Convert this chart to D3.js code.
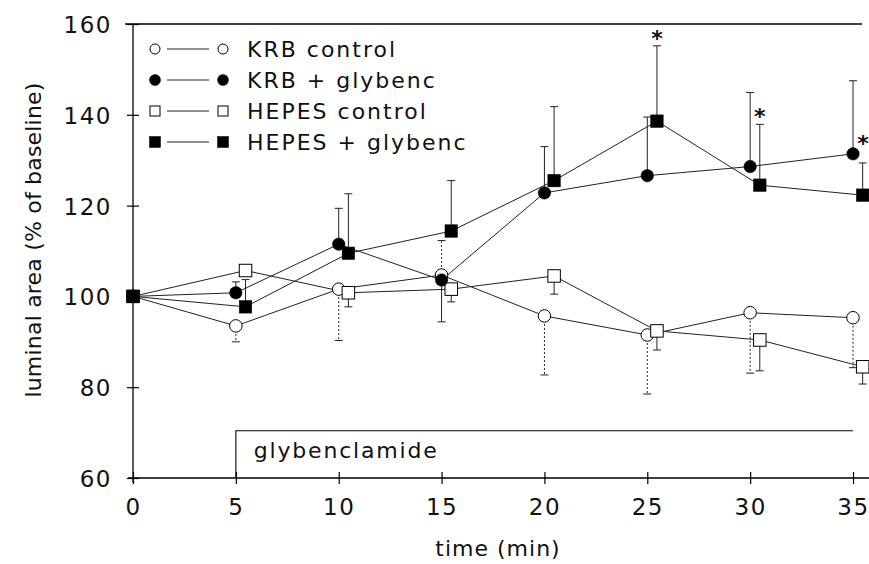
<!DOCTYPE html>
<html><head><meta charset="utf-8">
<script src="https://cdn.jsdelivr.net/npm/d3@7"></script>
<style>body{margin:0;background:#fff}svg{display:block}text{font-family:"DejaVu Sans",sans-serif;fill:#111}</style>
</head><body><svg id="c" width="869" height="564"></svg>
<script>
// ---- data ----
const times = [0, 5, 10, 15, 20, 25, 30, 35];
const xTicks = [0, 5, 10, 15, 20, 25, 30, 35];
const yTicks = [60, 80, 100, 120, 140, 160];
const seriesNames = ["KRB control", "KRB + glybenc", "HEPES control", "HEPES + glybenc"];
// mean values (% of baseline)
const krbControl   = [100, 93.5, 101.6, 104.7, 95.7, 91.5, 96.4, 95.3];
const krbGlyb      = [100, 100.8, 111.5, 103.6, 122.8, 126.6, 128.6, 131.4];
const hepesControl = [100, 105.7, 100.8, 101.6, 104.5, 92.4, 90.4, 84.5];
const hepesGlyb    = [100, 97.7, 109.5, 114.4, 125.5, 138.6, 124.5, 122.3];
// SEM drawn one-sided: positive = upward bar, negative = downward bar
const krbControlErr   = [0, -3.5, -11.3, 7.6, -13.0, -13.0, -13.3, -11.0];
const krbGlybErr      = [0, 2.4, 7.9, -9.2, 10.2, 12.9, 16.3, 16.1];
const hepesControlErr = [0, 0, -3.1, -2.8, -4.0, -4.2, -6.8, -3.8];
const hepesGlybErr    = [0, 6.0, 13.1, 11.1, 16.3, 16.6, 13.4, 7.1];
// significance marks: series index, time
const starSeries = [3, 3, 1];
const starTimes  = [25, 30, 35];
// glybenclamide application period
const glybStart = 5, glybEnd = 35, glybLevel = 70.4;

// ---- layout ----
const svg = d3.select("#c");
const x = d3.scaleLinear().domain([0, 35]).range([133, 853]);
const y = d3.scaleLinear().domain([60, 160]).range([478, 24]);
const hepesShift = 0.47;

const series = [
  {name: seriesNames[0], v: krbControl, e: krbControlErr, shape: "circle", fill: false, shift: 0, dash: "2,2"},
  {name: seriesNames[1], v: krbGlyb, e: krbGlybErr, shape: "circle", fill: true, shift: 0, dash: null},
  {name: seriesNames[2], v: hepesControl, e: hepesControlErr, shape: "square", fill: false, shift: hepesShift, dash: null},
  {name: seriesNames[3], v: hepesGlyb, e: hepesGlybErr, shape: "square", fill: true, shift: hepesShift, dash: null}
];
const px = (s, t) => x(t + (t > 0 ? s.shift : 0));

// frame: top line, axes
svg.append("line").attr("x1", 125).attr("x2", 862).attr("y1", y(160)).attr("y2", y(160))
  .attr("stroke", "#000").attr("stroke-width", 1.3);
svg.append("line").attr("x1", x(0)).attr("x2", x(0)).attr("y1", y(160)).attr("y2", y(60) + 5)
  .attr("stroke", "#000").attr("stroke-width", 1.3);
svg.append("line").attr("x1", x(0) - 5).attr("x2", 869).attr("y1", y(60)).attr("y2", y(60))
  .attr("stroke", "#000").attr("stroke-width", 1.3);

// y axis ticks (crossing)
const yAxis = d3.axisLeft(y).tickValues(yTicks).tickSize(0).tickPadding(0);
const ya = svg.append("g").attr("transform", `translate(${x(0)},0)`).call(yAxis);
ya.select(".domain").remove();
ya.selectAll(".tick line").remove();
ya.selectAll(".tick").append("line").attr("x1", -6).attr("x2", 6).attr("stroke", "#000").attr("stroke-width", 1.2);
ya.selectAll(".tick text").attr("x", -21).attr("dy", "0.37em")
  .style("font-size", "23px").style("letter-spacing", "1.5px").attr("fill", "#111");

// x axis ticks (crossing)
const xAxis = d3.axisBottom(x).tickValues(xTicks).tickSize(0).tickPadding(0);
const xa = svg.append("g").attr("transform", `translate(0,${y(60)})`).call(xAxis);
xa.select(".domain").remove();
xa.selectAll(".tick line").remove();
xa.selectAll(".tick").append("line").attr("y1", -6).attr("y2", 6).attr("stroke", "#000").attr("stroke-width", 1.2);
xa.selectAll(".tick text").attr("y", 37).attr("dy", 0)
  .style("font-size", "23px").style("letter-spacing", "1.5px").attr("fill", "#111");

// axis titles
svg.append("text").attr("x", 498).attr("y", 556).attr("text-anchor", "middle")
  .style("font-size", "22px").style("letter-spacing", "1px").text("time (min)");
svg.append("text").attr("transform", `translate(41,240) rotate(-90)`).attr("text-anchor", "middle")
  .style("font-size", "22px").style("letter-spacing", "0.2px").text("luminal area (% of baseline)");

// glybenclamide bracket
svg.append("path")
  .attr("d", `M${x(glybStart)},${y(60)} V${y(glybLevel)} H${x(glybEnd)}`)
  .attr("fill", "none").attr("stroke", "#000").attr("stroke-width", 1.1);
svg.append("text").attr("x", x(glybStart) + 18).attr("y", 458)
  .style("font-size", "22px").style("letter-spacing", "1.8px").text("glybenclamide");

// lines
const g = svg.append("g");
series.forEach(s => {
  const line = d3.line().x((d, i) => px(s, times[i])).y(d => y(d));
  g.append("path").attr("d", line(s.v)).attr("fill", "none").attr("stroke", "#222").attr("stroke-width", 1);
});
// error bars
series.forEach(s => {
  s.v.forEach((v, i) => {
    const e = s.e[i];
    if (!e) return;
    const xx = px(s, times[i]);
    g.append("line").attr("x1", xx).attr("x2", xx).attr("y1", y(v)).attr("y2", y(v + e))
      .attr("stroke", "#222").attr("stroke-width", 1).attr("stroke-dasharray", s.dash);
    g.append("line").attr("x1", xx - 4).attr("x2", xx + 4).attr("y1", y(v + e)).attr("y2", y(v + e))
      .attr("stroke", "#222").attr("stroke-width", 1);
  });
});
// markers
function marker(sel, s, cx, cy, size) {
  if (s.shape === "circle") {
    sel.append("circle").attr("cx", cx).attr("cy", cy).attr("r", size / 2)
      .attr("fill", s.fill ? "#000" : "#fff").attr("stroke", "#000").attr("stroke-width", s.fill ? 0.5 : 1);
  } else {
    sel.append("rect").attr("x", cx - size / 2).attr("y", cy - size / 2).attr("width", size).attr("height", size)
      .attr("fill", s.fill ? "#000" : "#fff").attr("stroke", "#000").attr("stroke-width", s.fill ? 0.5 : 1);
  }
}
[0, 2, 1, 3].forEach(k => {
  const s = series[k];
  s.v.forEach((v, i) => marker(g, s, px(s, times[i]), y(v), 12.5));
});
// significance asterisks
starSeries.forEach((k, j) => {
  const s = series[k];
  const i = times.indexOf(starTimes[j]);
  const v = s.v[i], e = s.e[i];
  let sx, cy;
  if (j < 2) { sx = px(s, times[i]); cy = y(v + Math.max(e, 0)) - 11; }
  else { sx = px(s, times[i]) + 10; cy = y(v) - 14; }
  svg.append("text").attr("x", sx).attr("y", cy + 11).attr("text-anchor", "middle")
    .style("font-size", "22px").style("font-weight", "bold").attr("fill", "#000").text("*");
});

// legend
const lg = svg.append("g");
series.forEach((s, i) => {
  const cy = 49 + i * 31;
  lg.append("line").attr("x1", 167).attr("x2", 209).attr("y1", cy).attr("y2", cy)
    .attr("stroke", "#222").attr("stroke-width", 1);
  marker(lg, s, 155, cy, s.fill ? 11 : 10);
  marker(lg, s, 223, cy, s.fill ? 11 : 10);
  lg.append("text").attr("x", 247).attr("y", cy + 8).style("font-size", "22px").style("letter-spacing", "2px").text(s.name);
});
</script></body></html>
